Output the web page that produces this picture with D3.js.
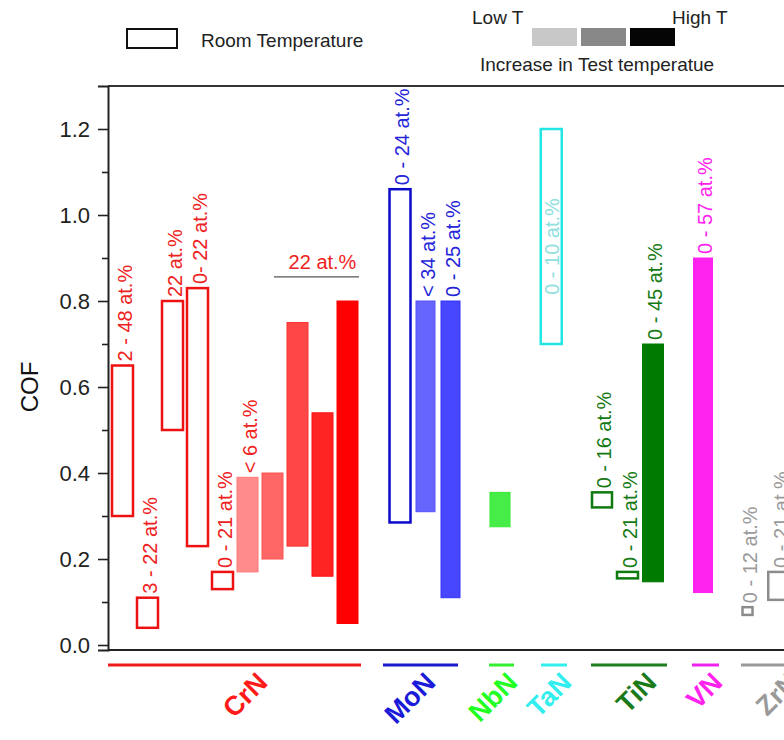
<!DOCTYPE html>
<html><head><meta charset="utf-8">
<script src="https://cdn.jsdelivr.net/npm/d3@7"></script>
<style>
html,body{margin:0;padding:0;background:#fff;}
svg{display:block;font-family:"Liberation Sans",Arial,sans-serif;}
</style></head>
<body>
<svg id="chart" width="784" height="740"></svg>
<script>
// ---------------- DATA ----------------
const categories = ["CrN","MoN","NbN","TaN","TiN","VN","ZrN"];
// each range bar: category index, slot on x axis (slot units), COF range, test temperature level (0 = room temperature)
const barCategory   = [0,0,0,0,0,0,0,0,0,0, 1,1,1, 2, 3, 4,4,4, 5, 6,6];
const barSlot       = [1,2,3,4,5,6,7,8,9,10, 12.1,13.12,14.12, 16.1, 18.15, 20.18,21.2,22.22, 24.22, 26,27.25];
const cofLow        = [0.30,0.04,0.50,0.23,0.13,0.17,0.20,0.23,0.16,0.05, 0.285,0.31,0.11, 0.275, 0.70, 0.32,0.155,0.147, 0.122, 0.07,0.105];
const cofHigh       = [0.65,0.11,0.80,0.83,0.17,0.39,0.40,0.75,0.54,0.80, 1.06,0.80,0.80, 0.355, 1.20, 0.355,0.17,0.70, 0.90, 0.088,0.17];
const testTempLevel = [0,0,0,0,0,1,2,3,4,5, 0,2,3, 3, 0, 0,0,5, 5, 0,0];
const barLabels     = ["2 - 48 at.%","3 - 22 at.%","22 at.%","0- 22 at.%","0 - 21 at.%","< 6 at.%","","","","",
                       "0 - 24 at.%","< 34 at.%","0 - 25 at.%","","0 - 10 at.%",
                       "0 - 16 at.%","0 - 21 at.%","0 - 45 at.%","0 - 57 at.%","0 - 12 at.%","0 - 21 at.%"];
// group underline extents (slot units)
const groupStart = [0.42, 11.42, 15.66, 17.74, 19.74, 23.78, 25.74];
const groupEnd   = [10.54, 14.42, 16.66, 18.78, 22.78, 24.86, 29.5];
// shared annotation over the last CrN bars
const groupNoteText = "22 at.%";
const groupNoteFrom = 7.06, groupNoteTo = 10.46, groupNoteCOF = 0.856;
const yMajorTicks = [0.0,0.2,0.4,0.6,0.8,1.0,1.2];
const yMinorTicks = [0.1,0.3,0.5,0.7,0.9,1.1];
const legendShades = ["Low","Mid","High"];

// ---------------- STYLE / LAYOUT ----------------
const strokeColor = ["#ee1111","#0a0acc","#33ee33","#22e6e6","#0f7a0f","#ff22ee","#8c8c8c"];
const fillBase    = ["#ff0000","#0000ff","#00e600","#22e6e6","#007a00","#ff22ee","#8c8c8c"];
const textColor   = ["#ee2222","#2525d8","#22dd22","#8fe0e0","#157a15","#ff22ee","#9a9a9a"];
const lineColor   = ["#ee1a1a","#1a1acc","#33ee33","#33eeee","#1f7f1f","#ee22ee","#9a9a9a"];
const catColor    = ["#ff1a1a","#1a1ad8","#22ff22","#33eeee","#1a7a1a","#ff22ee","#9a9a9a"];
const levelMix = [0, 0.45, 0.6, 0.72, 0.86, 1];
const catLabelEnd = [269, 437, 519, 573, 658, 724, 800]; // px, end of rotated category labels
const widthOverride = {11:0.76, 12:0.76, 13:0.8, 15:0.8, 18:0.76, 19:0.4};

const svg = d3.select("#chart");
const x = d3.scaleLinear().domain([0, 28]).range([97.5, 797.5]);
const y = d3.scaleLinear().domain([-0.0116, 1.3]).range([650, 86]);
const plotL = 108;

// frame top line
svg.append("line").attr("x1", plotL).attr("x2", 784).attr("y1", y(1.3)).attr("y2", y(1.3))
  .attr("stroke","#333").attr("stroke-width",2);
// bottom axis line
svg.append("line").attr("x1", plotL).attr("x2", 784).attr("y1", y(-0.0116)).attr("y2", y(-0.0116))
  .attr("stroke","#222").attr("stroke-width",2.2);

// y axis
const yAxis = d3.axisLeft(y).tickValues(yMajorTicks).tickSize(10).tickPadding(8).tickFormat(d3.format(".1f"));
const gy = svg.append("g").attr("transform",`translate(${plotL},0)`).call(yAxis);
gy.select(".domain").attr("stroke","#222").attr("stroke-width",2);
gy.selectAll(".tick line").attr("stroke","#222").attr("stroke-width",1.6);
gy.selectAll(".tick text").attr("font-size",22).attr("fill","#222").attr("font-family","Liberation Sans, Arial, sans-serif");
const gyMinor = svg.append("g").attr("transform",`translate(${plotL},0)`)
  .call(d3.axisLeft(y).tickValues(yMinorTicks).tickSize(6).tickFormat(""));
gyMinor.select(".domain").remove();
gyMinor.selectAll(".tick line").attr("stroke","#222").attr("stroke-width",1.6);

svg.append("text").attr("transform",`translate(38,${y(0.6)}) rotate(-90)`)
  .attr("text-anchor","middle").attr("font-size",24).attr("fill","#111").text("COF");

// bars
const bars = barSlot.map((s,i)=>({i, s, lo:cofLow[i], hi:cofHigh[i], c:barCategory[i], lvl:testTempLevel[i], label:barLabels[i],
  w: widthOverride[i] !== undefined ? widthOverride[i] : 0.84}));

svg.append("g").selectAll("rect").data(bars).join("rect")
  .attr("x", d => x(d.s - d.w/2))
  .attr("width", d => x(d.s + d.w/2) - x(d.s - d.w/2))
  .attr("y", d => y(d.hi))
  .attr("height", d => y(d.lo) - y(d.hi))
  .attr("fill", d => d.lvl === 0 ? "none" : d3.interpolateRgb("#ffffff", fillBase[d.c])(levelMix[d.lvl]))
  .attr("stroke", d => d.lvl === 0 ? strokeColor[d.c] : d3.interpolateRgb("#ffffff", fillBase[d.c])(Math.min(1, levelMix[d.lvl]+0.08)))
  .attr("stroke-width", d => d.lvl === 0 ? 2.5 : 1);

// bar labels (rotated)
svg.append("g").selectAll("text").data(bars.filter(d => d.label)).join("text")
  .attr("transform", d => {
    if (categories[d.c] === "TaN") return `translate(${x(d.s)+1},${(y(d.hi)+y(d.lo))/2 + 10}) rotate(-90)`;
    return `translate(${x(d.s)+2},${y(d.hi)-4}) rotate(-90)`;
  })
  .attr("text-anchor", d => categories[d.c] === "TaN" ? "middle" : "start")
  .attr("dy","0.35em")
  .attr("font-size",20)
  .attr("fill", d => textColor[d.c])
  .text(d => d.label);

// group note
svg.append("line").attr("x1", x(groupNoteFrom)).attr("x2", x(groupNoteTo))
  .attr("y1", y(groupNoteCOF)).attr("y2", y(groupNoteCOF)).attr("stroke","#555").attr("stroke-width",1.4);
svg.append("text").attr("x", (x(groupNoteFrom)+x(groupNoteTo))/2 + 6).attr("y", y(groupNoteCOF) - 8)
  .attr("text-anchor","middle").attr("font-size",20).attr("fill","#ee2222").text(groupNoteText);

// category underlines and labels
const cats = categories.map((name,k)=>({name,k}));
svg.append("g").selectAll("line").data(cats).join("line")
  .attr("x1", d => x(groupStart[d.k])).attr("x2", d => x(groupEnd[d.k]))
  .attr("y1", 665).attr("y2", 665)
  .attr("stroke", d => lineColor[d.k]).attr("stroke-width", 3);
svg.append("g").selectAll("text").data(cats).join("text")
  .attr("transform", d => `translate(${catLabelEnd[d.k]},684) rotate(-45)`)
  .attr("text-anchor","end").attr("font-size",27).attr("font-weight","bold")
  .attr("fill", d => catColor[d.k]).text(d => d.name);

// legend
svg.append("rect").attr("x",127).attr("y",29).attr("width",50).attr("height",19)
  .attr("fill","none").attr("stroke","#111").attr("stroke-width",2);
svg.append("text").attr("x",201).attr("y",47).attr("font-size",19).attr("fill","#222").text("Room Temperature");
const shadeColor = d3.scaleOrdinal().domain(legendShades).range(["#c8c8c8","#888888","#050505"]);
svg.append("g").selectAll("rect").data(legendShades).join("rect")
  .attr("x",(d,i)=>532 + i*49).attr("y",28).attr("width",45).attr("height",18)
  .attr("fill", d => shadeColor(d));
svg.append("text").attr("x",472).attr("y",24).attr("font-size",19).attr("fill","#222").text("Low T");
svg.append("text").attr("x",672).attr("y",24).attr("font-size",19).attr("fill","#222").text("High T");
svg.append("text").attr("x",480).attr("y",71).attr("font-size",19).attr("fill","#222").text("Increase in Test temperatue");
</script>
</body></html>
